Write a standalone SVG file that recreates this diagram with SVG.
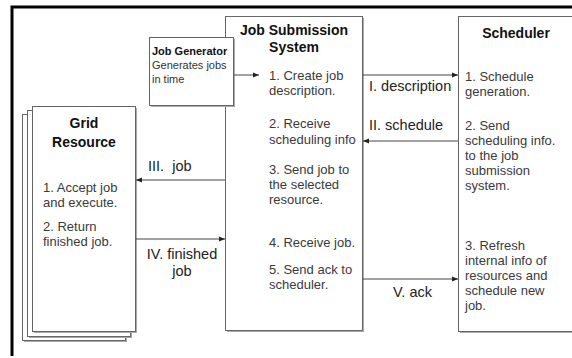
<svg xmlns="http://www.w3.org/2000/svg" width="572" height="358" viewBox="0 0 572 358">
<defs>
<marker id="ah" viewBox="0 0 6 6" refX="6" refY="3" markerWidth="6" markerHeight="6" orient="auto" markerUnits="userSpaceOnUse"><path d="M0,0.5 L6,3 L0,5.5 z" fill="#222"/></marker>
</defs>
<style>
.box{fill:#fff;stroke:#666;stroke-width:1}
.sh{fill:#aaa}
.title{font-family:"Liberation Sans",Arial,sans-serif;font-weight:bold;font-size:14px;fill:#111}
.gt{font-family:"Liberation Sans",Arial,sans-serif;font-weight:bold;font-size:11px;fill:#111}
.gb{font-family:"Liberation Sans",Arial,sans-serif;font-size:11px;fill:#333}
.body{font-family:"Liberation Sans",Arial,sans-serif;font-size:13px;fill:#3a3a3a}
.lbl{font-family:"Liberation Sans",Arial,sans-serif;font-size:14.5px;fill:#222}
.conn{stroke:#444;stroke-width:1;fill:none;marker-end:url(#ah)}
</style>
<rect x="0" y="0" width="572" height="358" fill="#fff"/>
<path d="M12,356 V7 H572" fill="none" stroke="#000" stroke-width="3"/>

<g id="grid-resource">
  <rect class="sh" x="24" y="116" width="103" height="226"/>
  <rect class="box" x="22.5" y="114.5" width="103" height="226"/>
  <rect class="sh" x="29" y="112" width="103" height="226"/>
  <rect class="box" x="27.5" y="110.5" width="103" height="226"/>
  <rect class="sh" x="34" y="108" width="103" height="225"/>
  <rect class="box" x="32.5" y="106.5" width="103" height="225"/>
  <text class="title" x="84" y="128" text-anchor="middle">Grid</text>
  <text class="title" x="84" y="147" text-anchor="middle">Resource</text>
  <text class="body" x="43" y="192">1. Accept job</text>
  <text class="body" x="43" y="207">and execute.</text>
  <text class="body" x="43" y="231">2. Return</text>
  <text class="body" x="43" y="246">finished job.</text>
</g>

<g id="job-submission-system">
  <rect class="sh" x="227" y="18" width="137" height="314"/>
  <rect class="box" x="225.5" y="16.5" width="137" height="314"/>
  <text class="title" x="294" y="35" text-anchor="middle">Job Submission</text>
  <text class="title" x="294" y="52" text-anchor="middle">System</text>
  <text class="body" x="269" y="80">1. Create job</text>
  <text class="body" x="269" y="95">description.</text>
  <text class="body" x="269" y="128">2. Receive</text>
  <text class="body" x="269" y="144">scheduling info</text>
  <text class="body" x="269" y="174">3. Send job to</text>
  <text class="body" x="269" y="189">the selected</text>
  <text class="body" x="269" y="204">resource.</text>
  <text class="body" x="269" y="247">4. Receive job.</text>
  <text class="body" x="269" y="274">5. Send ack to</text>
  <text class="body" x="269" y="289">scheduler.</text>
</g>

<g id="job-generator">
  <rect class="sh" x="151" y="39" width="84" height="68"/>
  <rect class="box" x="149.5" y="37.5" width="84" height="68"/>
  <text class="gt" x="152" y="55">Job Generator</text>
  <text class="gb" x="152" y="69">Generates jobs</text>
  <text class="gb" x="152" y="83">in time</text>
</g>

<g id="scheduler">
  <rect class="sh" x="460" y="18" width="120" height="315"/>
  <rect class="box" x="458.5" y="16.5" width="120" height="315"/>
  <text class="title" x="516" y="38" text-anchor="middle">Scheduler</text>
  <text class="body" x="465" y="81">1. Schedule</text>
  <text class="body" x="465" y="96">generation.</text>
  <text class="body" x="465" y="130">2. Send</text>
  <text class="body" x="465" y="145">scheduling info.</text>
  <text class="body" x="465" y="160">to the job</text>
  <text class="body" x="465" y="175">submission</text>
  <text class="body" x="465" y="190">system.</text>
  <text class="body" x="465" y="250">3. Refresh</text>
  <text class="body" x="465" y="265">internal info of</text>
  <text class="body" x="465" y="280">resources and</text>
  <text class="body" x="465" y="295">schedule new</text>
  <text class="body" x="465" y="310">job.</text>
</g>

<g id="connectors">
  <path class="conn" d="M234,75 H259"/>
  <path class="conn" d="M363,75 H458"/>
  <path class="conn" d="M458,141 H363"/>
  <path class="conn" d="M225,180 H136"/>
  <path class="conn" d="M136,239 H225"/>
  <path class="conn" d="M363,279 H458"/>
  <text class="lbl" x="369" y="91">I. description</text>
  <text class="lbl" x="369" y="130">II. schedule</text>
  <text class="lbl" x="148" y="171" xml:space="preserve">III.  job</text>
  <text class="lbl" x="182" y="259" text-anchor="middle">IV. finished</text>
  <text class="lbl" x="182" y="276" text-anchor="middle">job</text>
  <text class="lbl" x="393" y="297">V. ack</text>
</g>
</svg>
